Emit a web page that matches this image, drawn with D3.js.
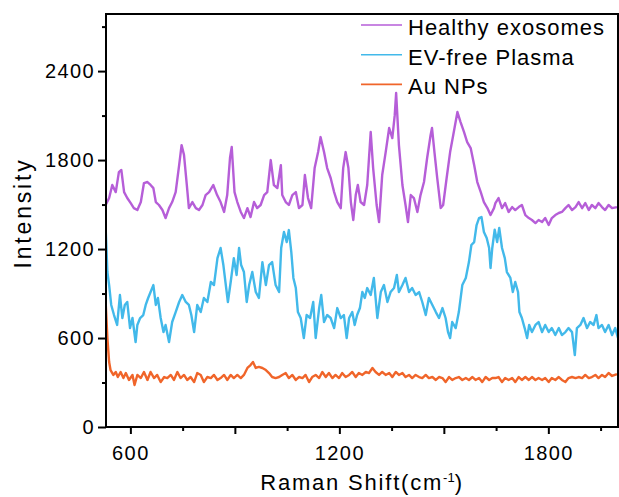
<!DOCTYPE html>
<html>
<head>
<meta charset="utf-8">
<script src="https://cdn.jsdelivr.net/npm/d3@7"></script>
<style>
  body { margin: 0; background: #fff; }
  svg { display: block; font-family: "Liberation Sans", Arial, sans-serif; }
</style>
</head>
<body>
<div class="chart"></div>
<script>
var width = 619,
    height = 497,
    margin = {top: 14, right: 1, bottom: 70, left: 106};

// series (Raman shift in cm-1, intensity in a.u.)
var exoShift = [529,539,548,558,567,574,582,591,601,610,620,630,639,649,658,666,673,682,692,701,711,720,730,740,747,754,762,768,778,788,797,807,816,826,838,849,859,869,878,886,891,899,
  907,917,926,936,945,955,964,974,984,993,1003,1012,1022,1032,1036,1046,1055,1065,1075,1084,1094,1101,1110,1119,1129,1139,1146,1156,1165,1175,1185,1194,1204,1211,1218,1226,1233,1240,1247,1253,1261,1271,
  1280,1290,1297,1307,1314,1323,1333,1343,1352,1359,1363,1371,1381,1390,1397,1405,1414,1424,1433,1443,1452,1462,1466,1473,1481,1491,1498,1508,1518,1527,1539,1548,1558,1567,1577,1587,1596,1606,1615,1625,1634,1644,
  1648,1657,1667,1676,1686,1696,1705,1715,1724,1734,1744,1753,1763,1772,1782,1791,1801,1810,1820,1830,1839,1849,1858,1868,1878,1887,1897,1906,1916,1925,1935,1944,1954,1963,1973,1983,1997];
var exoIntensity = [1497,1544,1632,1584,1719,1733,1584,1544,1510,1476,1463,1517,1645,1652,1632,1611,1517,1497,1463,1409,1476,1517,1584,1766,1901,1834,1632,1476,1517,1476,1463,1497,1564,1584,1632,1564,1517,1450,1564,1814,1888,1584,
  1517,1450,1409,1476,1416,1517,1476,1497,1564,1584,1800,1632,1611,1766,1564,1517,1497,1564,1584,1476,1497,1699,1544,1476,1746,1854,1955,1854,1746,1679,1584,1517,1476,1746,1854,1746,1517,1396,1564,1632,1517,1497,
  1632,1989,1746,1497,1382,1699,1854,2016,1948,2103,2252,1901,1632,1497,1382,1564,1544,1450,1564,1652,1814,1969,2016,1854,1679,1476,1497,1679,1854,1969,2124,2056,1989,1921,1881,1766,1652,1584,1517,1476,1429,1476,
  1510,1544,1476,1510,1450,1483,1463,1483,1497,1429,1409,1396,1375,1396,1382,1409,1362,1409,1429,1443,1450,1476,1497,1463,1483,1517,1476,1510,1463,1497,1476,1510,1483,1463,1497,1476,1483];

var plasmaShift = [529,534,539,545,553,562,570,577,584,591,599,606,615,620,628,637,644,651,658,666,673,679,687,695,701,711,720,730,740,749,759,768,775,783,792,802,811,821,831,840,850,859,867,874,880,888,897,
  905,912,918,926,934,941,950,960,969,979,989,998,1007,1017,1027,1033,1041,1049,1055,1062,1068,1075,1081,1089,1098,1106,1116,1125,1132,1142,1148,1156,1165,1175,1185,1194,1204,1213,1221,1228,1237,1244,1251,1259,1266,1273,
  1280,1290,1299,1309,1319,1328,1338,1347,1357,1365,1371,1381,1390,1400,1409,1419,1429,1438,1448,1457,1467,1477,1486,1496,1505,1512,1518,1524,1534,1543,1553,1563,1572,1579,1587,1594,1601,1608,1615,1623,1630,1634,1639,1646,
  1653,1659,1667,1675,1681,1691,1698,1705,1713,1717,1724,1732,1739,1745,1753,1763,1772,1782,1791,1801,1810,1820,1830,1839,1849,1858,1868,1876,1882,1892,1901,1911,1920,1930,1938,1944,1954,1963,1973,1983,1992,2000];
var plasmaIntensity = [1342,1045,957,823,755,688,890,735,823,843,667,735,573,688,735,755,823,870,910,957,823,870,735,640,688,573,708,775,843,890,843,823,755,640,823,775,870,843,978,957,1139,1207,1092,957,843,978,1139,
  1025,1207,1092,1045,843,957,1045,910,870,1112,957,1092,1112,957,910,1207,1315,1247,1328,1180,1005,937,775,735,600,755,735,843,600,802,890,708,755,735,667,802,735,755,600,735,775,688,755,802,910,870,
  937,890,1005,735,910,957,843,910,937,1025,910,957,1005,910,937,890,910,843,755,870,823,775,735,802,735,640,600,708,667,775,957,1005,1112,1227,1247,1362,1409,1416,1315,1274,1207,1072,1207,1330,
  1247,1342,1207,1139,1045,1005,910,978,910,775,735,667,600,688,640,688,708,640,688,640,667,620,667,620,640,667,640,485,667,688,735,667,708,688,755,667,688,640,688,620,667,600];

var auShift = [529,534,539,543,551,558,564,572,580,587,596,606,612,620,630,639,649,658,668,677,687,697,706,716,725,735,744,754,763,773,783,792,802,811,821,831,840,850,859,869,878,888,897,
  907,917,926,936,945,952,960,969,979,989,998,1007,1017,1027,1036,1046,1055,1065,1075,1084,1094,1103,1113,1122,1132,1142,1151,1161,1170,1180,1189,1199,1208,1218,1228,1237,1247,1256,1266,
  1276,1285,1295,1304,1314,1323,1333,1343,1352,1362,1371,1381,1390,1400,1409,1419,1429,1438,1448,1457,1467,1477,1486,1496,1505,1515,1524,1534,1543,1553,1563,1572,1582,1591,1601,1610,1620,1630,1639,
  1648,1657,1667,1676,1686,1696,1705,1715,1724,1734,1744,1753,1763,1772,1782,1791,1801,1810,1820,1830,1839,1849,1858,1868,1878,1887,1897,1906,1916,1925,1935,1944,1954,1963,1973,1983,1997];
var auIntensity = [843,600,438,384,351,371,337,371,330,364,317,351,283,351,330,371,317,371,330,351,303,337,330,351,317,371,330,351,317,337,303,364,351,303,337,330,351,317,330,351,317,351,330,
  351,330,351,398,418,438,398,405,398,384,364,337,330,337,351,364,330,351,317,337,330,351,303,337,351,330,371,337,364,330,351,330,364,337,351,371,337,364,351,
  371,364,398,371,351,371,351,364,337,371,351,364,337,351,330,351,337,330,351,330,337,317,337,330,303,337,317,330,337,317,330,317,337,317,330,303,337,317,330,
  330,337,303,330,317,330,303,337,317,337,317,337,317,330,317,330,303,330,317,337,317,303,330,337,330,337,330,351,330,337,351,330,351,337,364,344,357];

var seriesNames = ["Healthy exosomes", "EV-free Plasma", "Au NPs"];
var seriesColors = ["#b65ed8", "#42b9ea", "#f0652a"];

var xMajor = [600, 900, 1200, 1500, 1800],
    xMinor = [750, 1050, 1350, 1650, 1950],
    yMajor = [0, 600, 1200, 1800, 2400],
    yMinor = [300, 900, 1500, 2100, 2700];

var series = [
  {name: seriesNames[0], color: seriesColors[0], values: d3.zip(exoShift, exoIntensity)},
  {name: seriesNames[1], color: seriesColors[1], values: d3.zip(plasmaShift, plasmaIntensity)},
  {name: seriesNames[2], color: seriesColors[2], values: d3.zip(auShift, auIntensity)}
];

var svg = d3.select("div.chart")
        .append("svg")
        .attr("width", width)
        .attr("height", height);

var x = d3.scaleLinear()
        .domain([530, 2000])
        .range([margin.left, width - margin.right]),
    y = d3.scaleLinear()
        .domain([0, 2785])
        .range([height - margin.bottom, margin.top]);

svg.append("clipPath").attr("id", "plotclip")
  .append("rect")
    .attr("x", margin.left).attr("y", margin.top)
    .attr("width", width - margin.right - margin.left)
    .attr("height", height - margin.bottom - margin.top);

var line = d3.line()
    .x(function(d) { return x(d[0]); })
    .y(function(d) { return y(d[1]); });

// draw the bottom series first so the top ones sit above
svg.append("g").attr("clip-path", "url(#plotclip)")
  .selectAll("path")
  .data(series.slice().reverse())
  .enter().append("path")
    .attr("d", function(d) { return line(d.values); })
    .attr("fill", "none")
    .attr("stroke", function(d) { return d.color; })
    .attr("stroke-width", 2.4)
    .attr("stroke-linejoin", "round");

// frame
var x0 = margin.left, x1 = width - margin.right, y0 = height - margin.bottom, y1 = margin.top;
svg.append("path")
  .attr("d", "M" + x0 + "," + y0 + "V" + y1 + "H" + x1 + "V" + y0 + "Z")
  .attr("fill", "none")
  .attr("stroke", "#000")
  .attr("stroke-width", 2);

// x axis
svg.append("g")
    .attr("transform", "translate(0," + y0 + ")")
    .call(d3.axisBottom(x).tickValues(xMajor).tickSize(7).tickPadding(12)
      .tickFormat(function(d) { return d % 600 === 0 ? String(d) : ""; }));
svg.append("g")
    .attr("transform", "translate(0," + y0 + ")")
    .call(d3.axisBottom(x).tickValues(xMinor).tickSize(4).tickFormat(""));

// y axis
svg.append("g")
    .attr("transform", "translate(" + x0 + ",0)")
    .call(d3.axisLeft(y).tickValues(yMajor).tickSize(8).tickPadding(3)
      .tickFormat(function(d) { return String(d); }));
svg.append("g")
    .attr("transform", "translate(" + x0 + ",0)")
    .call(d3.axisLeft(y).tickValues(yMinor).tickSize(4).tickFormat(""));

svg.selectAll(".domain").remove();
svg.selectAll(".tick line").attr("stroke", "#000").attr("stroke-width", 2);
svg.selectAll(".tick text")
    .attr("fill", "#000")
    .style("font-family", "'Liberation Sans', Arial, sans-serif")
    .style("font-size", "20px")
    .style("letter-spacing", "1.4px");

// axis titles
var xTitle = svg.append("text")
    .attr("x", (x0 + x1) / 2)
    .attr("y", 490)
    .attr("text-anchor", "middle")
    .style("font-size", "22px")
    .style("letter-spacing", "1.8px");
xTitle.append("tspan").text("Raman Shift(cm");
xTitle.append("tspan")
    .attr("dy", -8)
    .style("font-size", "13px")
    .style("letter-spacing", "0px")
    .text("-1");
xTitle.append("tspan")
    .attr("dy", 8)
    .text(")");

svg.append("text")
    .attr("transform", "translate(31,213) rotate(-90)")
    .attr("text-anchor", "middle")
    .style("font-size", "23px")
    .style("letter-spacing", "2.8px")
    .text("Intensity");

// legend
var legend = svg.append("g").selectAll("g")
    .data(series)
    .enter().append("g")
    .attr("transform", function(d, i) { return "translate(361," + (35 + i * 29.7) + ")"; });

legend.append("line")
    .attr("x1", 0).attr("x2", 41)
    .attr("y1", -10).attr("y2", -10)
    .attr("stroke", function(d) { return d.color; })
    .attr("stroke-width", 1.6);

legend.append("text")
    .attr("x", 47)
    .attr("y", 0)
    .style("font-size", "22px")
    .style("letter-spacing", "1px")
    .text(function(d) { return d.name; });
</script>
</body>
</html>
